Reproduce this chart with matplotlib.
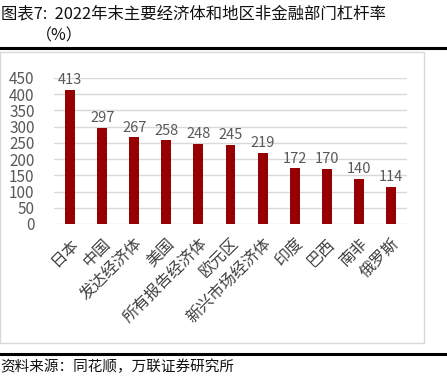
import matplotlib.pyplot as plt
from matplotlib.patches import Rectangle

plt.rcParams['font.family'] = ['Noto Sans CJK SC', 'DejaVu Sans']

categorias = ['日本', '中国', '发达经济体', '美国', '所有报告经济体', '欧元区',
              '新兴市场经济体', '印度', '巴西', '南非', '俄罗斯']
valores = [413, 297, 267, 258, 248, 245, 219, 172, 170, 140, 114]
yticks = [0, 50, 100, 150, 200, 250, 300, 350, 400, 450]

fig = plt.figure(figsize=(4.47, 3.88), dpi=100)

# Titulo y lineas de la ficha
fig.text(0.002, 1 - 14/388, '图表7:  2022年末主要经济体和地区非金融部门杠杆率',
         fontsize=11.8, va='center', ha='left', color='#111111')
fig.text(36/447, 1 - 36/388, '（%）', fontsize=11.5, va='center', ha='left', color='#111111')
fig.add_artist(plt.Line2D([0, 1], [1 - 48/388] * 2, color='black', lw=2.2))
fig.add_artist(Rectangle((0.0, 1 - 343/388), 424/447, (343 - 52)/388, fill=False,
                         edgecolor='#d9d9d9', lw=1))
fig.add_artist(plt.Line2D([0, 1], [1 - 354/388] * 2, color='black', lw=2.2))
fig.text(0.0, 1 - 367/388, '资料来源：同花顺，万联证券研究所', fontsize=10.5,
         va='center', ha='left', color='#111111', style='italic')

ax = fig.add_axes([54/447, 1 - 224/388, (407 - 54)/447, (224 - 78)/388])
x = range(len(categorias))
ax.bar(x, valores, width=0.31, color='#960000', zorder=3)
for xi, v in zip(x, valores):
    ax.text(xi, v + 8, str(v), ha='center', va='bottom', fontsize=10.5, color='#595959')

ax.set_ylim(0, 450)
ax.set_xlim(-0.5, len(categorias) - 0.5)
ax.set_yticks(yticks)
ax.yaxis.grid(True, color='#d9d9d9', lw=1, zorder=0)
ax.tick_params(axis='y', length=0, labelsize=11, labelcolor='#595959', pad=14)
ax.tick_params(axis='x', length=0, labelsize=11.5, labelcolor='#404040', pad=8)
ax.set_xticks(list(x))
ax.set_xticklabels(categorias, rotation=45, ha='right', rotation_mode='anchor')
for s in ax.spines.values():
    s.set_visible(False)

fig.savefig('out.png', dpi=100)
